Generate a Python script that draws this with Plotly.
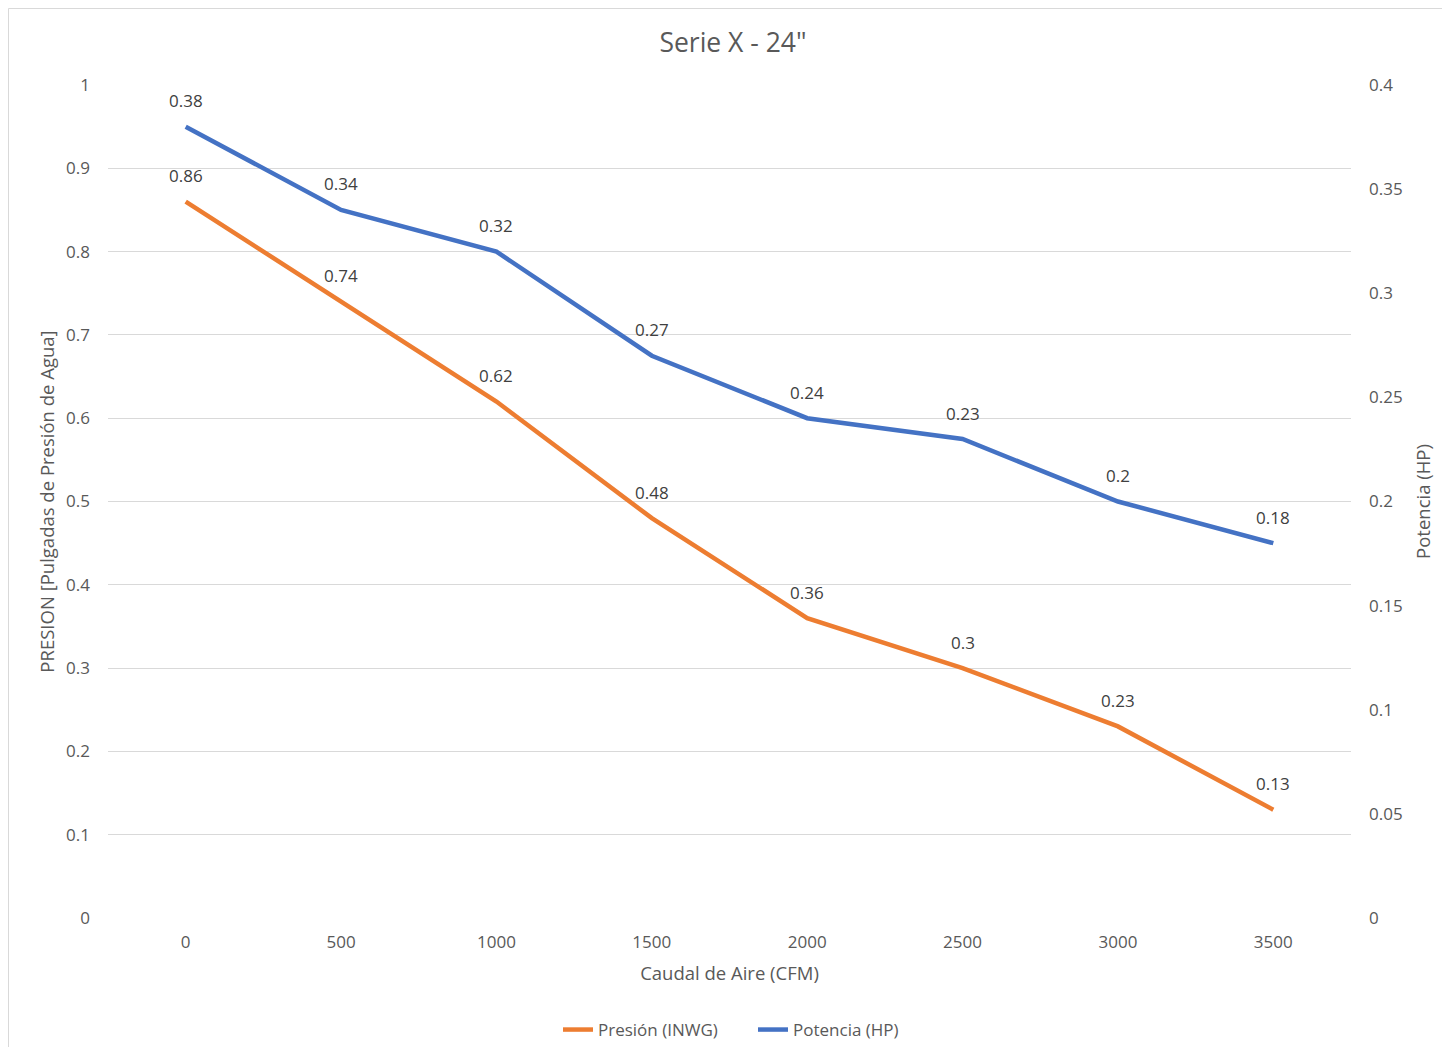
import plotly.graph_objects as go

categories = ["0", "500", "1000", "1500", "2000", "2500", "3000", "3500"]
presion = [0.86, 0.74, 0.62, 0.48, 0.36, 0.30, 0.23, 0.13]
potencia = [0.38, 0.34, 0.32, 0.27, 0.24, 0.23, 0.20, 0.18]
left_ticks = [0, 0.1, 0.2, 0.3, 0.4, 0.5, 0.6, 0.7, 0.8, 0.9, 1]
right_ticks = [0, 0.05, 0.1, 0.15, 0.2, 0.25, 0.3, 0.35, 0.4]

ORANGE = "#ED7D31"
BLUE = "#4472C4"
GRID = "#D9D9D9"
TXT = "#595959"
LBL = "#404040"
FONT = "Open Sans"

fig = go.Figure()
fig.add_trace(go.Scatter(x=categories, y=presion, name="Presión (INWG)", mode="lines",
                         line=dict(color=ORANGE, width=4.5), yaxis="y"))
fig.add_trace(go.Scatter(x=categories, y=potencia, name="Potencia (HP)", mode="lines",
                         line=dict(color=BLUE, width=4.5), yaxis="y2"))


def fmt(v):
    return f"{v:.2f}".rstrip("0").rstrip(".")


annotations = []
for i, v in enumerate(presion):
    annotations.append(dict(x=i, y=v, xref="x", yref="y", text=fmt(v), showarrow=False,
                            yshift=26, font=dict(size=17, color=LBL, family=FONT)))
for i, v in enumerate(potencia):
    annotations.append(dict(x=i, y=v, xref="x", yref="y2", text=fmt(v), showarrow=False,
                            yshift=26, font=dict(size=17, color=LBL, family=FONT)))

# page is offset by the 8px body margin
OFF = 8
W, H = 1434, 1039
L, T = 108 - OFF, 85 - OFF
R = W - (1351 - OFF)
B = H - (918 - OFF)
pw, ph = W - L - R, H - T - B


def px_x(px):
    return (px - OFF - L) / pw


def px_y(py):
    return (H - B - (py - OFF)) / ph


fig.update_layout(
    width=W, height=H,
    margin=dict(l=L, r=R, t=T, b=B, autoexpand=False),
    paper_bgcolor="white", plot_bgcolor="white",
    font=dict(family=FONT, color=TXT, size=17),
    title=dict(text='Serie X - 24"', x=px_x(733), xref="paper", xanchor="center",
               y=1 - (43 - OFF) / H, yanchor="middle", font=dict(size=26.5, color=TXT, family=FONT)),
    xaxis=dict(type="category", range=[-0.5, 7.5], showgrid=False, showline=False,
               zeroline=False, ticks="", tickfont=dict(size=17, color=TXT),
               ticklabelstandoff=12, automargin=False,
               title=dict(text="Caudal de Aire (CFM)", font=dict(size=18.5, color=TXT), standoff=15)),
    yaxis=dict(range=[0, 1], tickvals=left_ticks, ticktext=[fmt(v) for v in left_ticks],
               showgrid=True, gridcolor=GRID, gridwidth=1, zeroline=False, showline=False,
               ticks="", tickfont=dict(size=17, color=TXT), ticklabelstandoff=17, automargin=False,
               title=dict(text="PRESION [Pulgadas de Presión de Agua]",
                          font=dict(size=18.5, color=TXT), standoff=6)),
    yaxis2=dict(range=[0, 0.4], tickvals=right_ticks, ticktext=[fmt(v) for v in right_ticks],
                overlaying="y", side="right", showgrid=False, zeroline=False, showline=False,
                ticks="", tickfont=dict(size=17, color=TXT), ticklabelstandoff=17, automargin=False,
                title=dict(text="Potencia (HP)", font=dict(size=18.5, color=TXT), standoff=15)),
    legend=dict(orientation="h", x=px_x(753), xanchor="center",
                y=px_y(1030), yanchor="middle", font=dict(size=17, color=TXT),
                itemwidth=30, tracegroupgap=0, entrywidth=150, entrywidthmode="pixels"),
    annotations=annotations,
    shapes=[dict(type="rect", xref="paper", yref="paper",
                 x0=px_x(8.5), x1=px_x(1448),
                 y0=px_y(1070), y1=px_y(8.5),
                 line=dict(color=GRID, width=1), fillcolor="rgba(0,0,0,0)", layer="below")],
)

fig.write_html("out.html")
